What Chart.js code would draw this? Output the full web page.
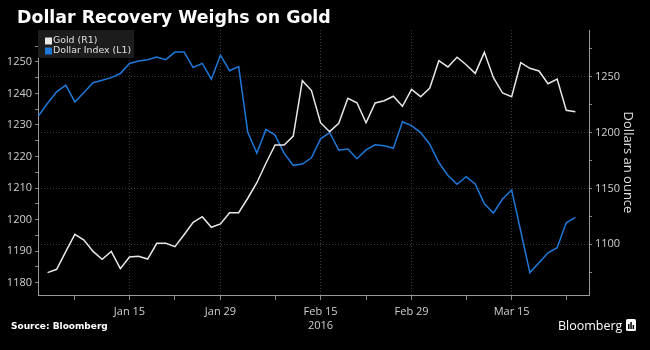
<!DOCTYPE html>
<html>
<head>
<meta charset="utf-8">
<script src="https://cdn.jsdelivr.net/npm/chart.js@4.4.1/dist/chart.umd.min.js"></script>
<style>
  body { margin: 0; background: #000; }
  #wrap { position: relative; width: 650px; height: 350px; background: #000; overflow: hidden; font-family: 'Open Sans', sans-serif; }
  #title { position: absolute; left: 17px; top: 9px; line-height: 17.4px; color: #fff; font-weight: bold; font-size: 17.4px; font-family: 'DejaVu Sans', sans-serif; white-space: nowrap; }
  #source { position: absolute; left: 11px; top: 322px; line-height: 9px; color: #fff; font-weight: bold; font-size: 9px; font-family: 'DejaVu Sans', sans-serif; white-space: nowrap; }
  #logo { position: absolute; left: 558px; top: 319.5px; line-height: 12.5px; color: #fff; font-size: 12.5px; }
  #icon { position: absolute; left: 626px; top: 319px; }
  #chart { position: absolute; left: 0; top: 0; }
</style>
</head>
<body>
<div id="wrap">
  <canvas id="chart" width="650" height="350"></canvas>
  <div id="title">Dollar Recovery Weighs on Gold</div>
  <div id="source">Source: Bloomberg</div>
  <div id="logo">Bloomberg</div>
  <svg id="icon" width="10" height="12" viewBox="0 0 10 12">
    <rect x="0" y="0" width="10" height="12" rx="1.5" fill="#fff"/>
    <rect x="2" y="5" width="1.5" height="5" fill="#000"/>
    <rect x="4.3" y="3" width="1.5" height="7" fill="#000"/>
    <rect x="6.6" y="6" width="1.5" height="4" fill="#000"/>
  </svg>
</div>
<script>
// x = trading day index, 0 = Jan 1 2016 (weekdays only)
var xTicks = [4, 10, 15, 20, 26, 31, 36, 41, 47, 52, 58];
var xLabels = { 10: 'Jan 15', 20: 'Jan 29', 31: ['Feb 15', '2016'], 41: 'Feb 29', 52: 'Mar 15' };

// Dollar index (left axis)
var dollar = [1232.9, 1236.9, 1240.5, 1242.6, 1237.3, 1240.3, 1243.4, 1244.2, 1245.0, 1246.3,
  1249.5, 1250.3, 1250.7, 1251.5, 1250.7, 1253.1, 1253.1, 1248.2, 1249.5, 1244.5,
  1252.1, 1247.2, 1248.5, 1227.7, 1221.1, 1228.6, 1226.8, 1221.0, 1217.2, 1217.6,
  1219.6, 1225.6, 1227.6, 1222.0, 1222.4, 1219.3, 1222.1, 1223.7, 1223.4, 1222.6,
  1231.0, 1229.8, 1227.6, 1223.9, 1218.1, 1214.0, 1211.2, 1213.6, 1211.3, 1205.0,
  1202.1, 1206.5, 1209.4, 1196.3, 1183.2, 1186.3, 1189.5, 1191.1, 1199.0, 1200.7];

// Gold, dollars an ounce (right axis)
var gold = [null, 1074.6, 1077.6, 1093.4, 1108.9, 1103.8, 1093.6, 1086.6, 1093.6, 1078.2,
  1088.6, 1089.3, 1086.8, 1100.9, 1100.9, 1097.9, 1108.6, 1119.7, 1124.7, 1115.2,
  1118.2, 1128.3, 1128.3, 1141.2, 1155.1, 1172.5, 1188.9, 1188.9, 1196.9, 1246.4,
  1237.6, 1208.8, 1200.8, 1208.3, 1230.7, 1226.7, 1208.8, 1226.5, 1228.5, 1232.5,
  1223.5, 1238.7, 1232.1, 1239.9, 1264.3, 1258.7, 1267.4, 1260.7, 1253.0, 1271.8,
  1249.1, 1235.4, 1232.1, 1262.5, 1257.5, 1255.1, 1243.7, 1247.9, 1219.9, 1218.7];

var leftTicks = [1180, 1185, 1190, 1195, 1200, 1205, 1210, 1215, 1220, 1225, 1230, 1235, 1240, 1245, 1250, 1255];
var rightTicks = [1075, 1100, 1125, 1150, 1175, 1200, 1225, 1250, 1275];

function toPoints(arr) {
  return arr.map(function (v, i) { return { x: i, y: v }; });
}

Chart.defaults.font.family = "'Open Sans', sans-serif";
Chart.defaults.color = '#d0d0d0';

// legend box in top left corner of the plot
var boxLegend = {
  id: 'boxLegend',
  afterDraw: function (chart) {
    var ctx = chart.ctx;
    var a = chart.chartArea;
    ctx.save();
    ctx.fillStyle = '#1c1c1c';
    ctx.fillRect(a.left, a.top, 96, 28);
    ctx.font = "9.4px 'DejaVu Sans', sans-serif";
    ctx.textBaseline = 'middle';
    chart.data.datasets.forEach(function (ds, k) {
      var y = a.top + 11 + k * 10;
      ctx.fillStyle = ds.borderColor;
      ctx.fillRect(a.left + 7, y - 3.5, 7, 7);
      ctx.fillStyle = '#e0e0e0';
      ctx.fillText(ds.label, a.left + 15, y);
    });
    ctx.restore();
  }
};

new Chart(document.getElementById('chart'), {
  type: 'line',
  data: {
    datasets: [
      { label: 'Gold (R1)', data: toPoints(gold), yAxisID: 'yR', borderColor: '#e8e8e8', borderWidth: 1.5, pointRadius: 0, tension: 0 },
      { label: 'Dollar Index (L1)', data: toPoints(dollar), yAxisID: 'yL', borderColor: '#1f78d8', borderWidth: 1.5, pointRadius: 0, tension: 0 }
    ]
  },
  options: {
    responsive: false,
    animation: false,
    layout: { padding: { top: 30, left: 0, right: 0, bottom: 0 } },
    plugins: { legend: { display: false }, tooltip: { enabled: false } },
    scales: {
      x: {
        type: 'linear',
        min: -0.05,
        max: 60.5,
        afterBuildTicks: function (s) { s.ticks = xTicks.map(function (v) { return { value: v }; }); },
        afterFit: function (s) { s.height = 55; },
        ticks: {
          autoSkip: false, maxRotation: 0, padding: 4,
          font: { size: 11, lineHeight: 1.35 }, color: '#d0d0d0',
          callback: function (v) { return xLabels[v] || ''; }
        },
        grid: {
          color: function (c) { return xLabels[c.tick && c.tick.value] ? '#3a3a3a' : 'rgba(0,0,0,0)'; },
          tickColor: '#888', tickLength: 5, lineWidth: 1
        },
        border: { color: '#999', dash: [1, 2] }
      },
      yL: {
        type: 'linear',
        position: 'left',
        min: 1176.1,
        max: 1260.1,
        afterBuildTicks: function (s) { s.ticks = leftTicks.map(function (v) { return { value: v }; }); },
        afterFit: function (s) { s.width = 38; },
        ticks: {
          autoSkip: false, padding: 3, font: { size: 11 }, color: '#d0d0d0',
          callback: function (v) { return v % 10 === 0 ? v : ''; }
        },
        grid: { drawOnChartArea: false, tickColor: '#888', tickLength: 3 },
        border: { color: '#999' }
      },
      yR: {
        type: 'linear',
        position: 'right',
        min: 1054.6,
        max: 1291.8,
        afterBuildTicks: function (s) { s.ticks = rightTicks.map(function (v) { return { value: v }; }); },
        afterFit: function (s) { s.width = 61; },
        ticks: {
          autoSkip: false, padding: 3, font: { size: 11 }, color: '#d0d0d0',
          callback: function (v) { return v % 50 === 0 ? v : ''; }
        },
        grid: {
          color: function (c) { return c.tick && c.tick.value % 50 === 0 ? '#3a3a3a' : 'rgba(0,0,0,0)'; },
          tickColor: '#888', tickLength: 3
        },
        border: { color: '#999', dash: [1, 2] },
        title: { display: true, text: 'Dollars an ounce', color: '#e0e0e0', font: { size: 13 }, padding: { top: 14, bottom: 0 } }
      }
    }
  },
  plugins: [boxLegend]
});
</script>
</body>
</html>
